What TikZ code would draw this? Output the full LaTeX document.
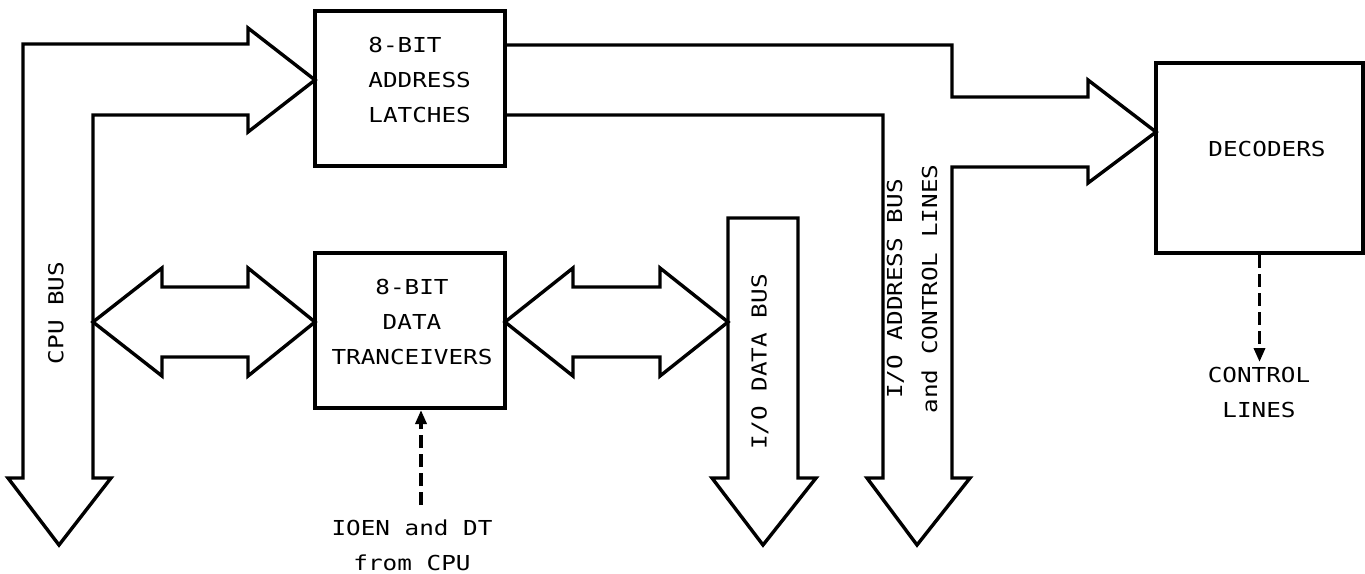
\documentclass[tikz,border=0pt]{standalone}
\usepackage{fontspec}
\newfontfamily\plotfont[FakeStretch=1.18]{DejaVu Sans Mono}
\usetikzlibrary{arrows.meta}
\begin{document}
\begin{tikzpicture}[x=0.5pt,y=-0.5pt,
  box/.style={draw,line width=2pt,inner sep=0pt},
  bus/.style={draw,line width=1.7pt,line join=miter},
  lbl/.style={font=\plotfont\fontsize{10.3}{17.5}\selectfont,inner sep=0pt,align=center},
  ctl/.style={line width=1.7pt,dash pattern=on 6.5pt off 3pt,-{Triangle[length=7pt,width=5.5pt]}}]
\useasboundingbox (0,0) rectangle (1365,573);

% boxes
\node[box,minimum width=95pt,minimum height=77.5pt] (latch) at (410,88.5) {};
\node[box,minimum width=95pt,minimum height=77.5pt] (data) at (410,330.5) {};
\node[box,minimum width=103.5pt,minimum height=95pt] (decoders) at (1259.5,158) {};

% texts
\node[lbl,align=left,anchor=west] (latchtxt) at (368,80) {8-BIT\\ADDRESS\\LATCHES};
\node[lbl] (datatxt) at (412,322) {8-BIT\\DATA\\TRANCEIVERS};
\node[lbl] (dectxt) at (1267,149) {DECODERS};
\node[lbl] (ctlbl) at (1259,392) {CONTROL\\LINES};
\node[lbl] (ioen) at (412,545) {IOEN and DT\\from CPU};
\node[lbl,rotate=90] (cpubus) at (56,313) {CPU BUS};
\node[lbl,rotate=90] (iodata) at (760,362) {I/O DATA BUS};
\node[lbl,rotate=90] (ioaddr) at (912,289) {I/O ADDRESS BUS\\and CONTROL LINES};

% CPU bus
\draw[bus] (315,80) -- (248,28) -- (248,44) -- (23,44) -- (23,478) -- (8,478)
  -- (59,545) -- (111,478) -- (93,478) -- (93,115) -- (248,115) -- (248,132) -- cycle;

% double arrow CPU bus <-> data tranceivers
\draw[bus] (93,322) -- (162,268) -- (162,287) -- (248,287) -- (248,268) -- (315,322)
  -- (248,376) -- (248,357) -- (162,357) -- (162,376) -- cycle;

% double arrow data tranceivers <-> I/O data bus
\draw[bus] (505,322) -- (573,268) -- (573,287) -- (660,287) -- (660,268) -- (728,322)
  -- (660,376) -- (660,357) -- (573,357) -- (573,376) -- cycle;

% I/O data bus
\draw[bus] (728,218) -- (798,218) -- (798,478) -- (816,478) -- (763,545) -- (712,478)
  -- (728,478) -- cycle;

% I/O address bus and decoder feed
\draw[bus] (505,45) -- (952,45) -- (952,97) -- (1088,97) -- (1088,80) -- (1156,132)
  -- (1088,183) -- (1088,167) -- (952,167) -- (952,478) -- (970,478) -- (917,545)
  -- (867,478) -- (883,478) -- (883,115) -- (505,115);

% control arrows
\coordinate (ioentail) at (421,505);
\draw[ctl] (ioentail) -- (ioentail |- data.south);
\coordinate (ctltip) at (1259.5,362);
\draw[ctl] (decoders.south) -- (ctltip);
\end{tikzpicture}
\end{document}
